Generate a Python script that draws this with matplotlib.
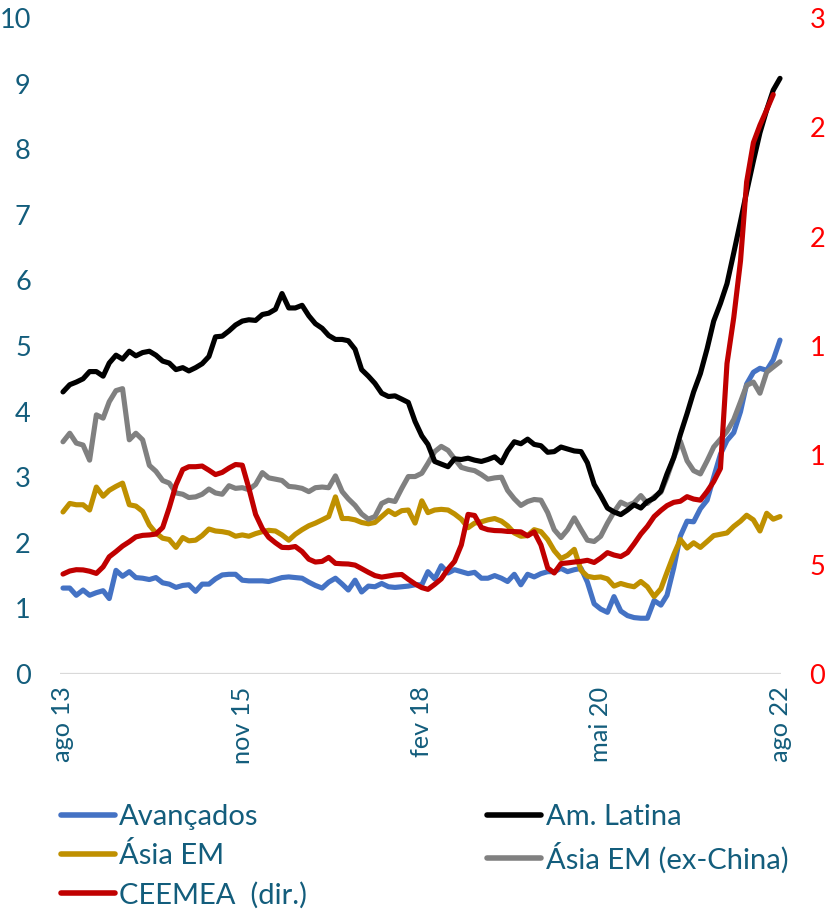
import matplotlib
matplotlib.use("Agg")
import matplotlib.pyplot as plt
import numpy as np
import pandas as pd

plt.rcParams['font.family'] = ['Lato', 'DejaVu Sans']

# ---------------- data (monthly, ago 2013 .. ago 2022) ----------------
dates = pd.date_range("2013-08-01", periods=109, freq="MS")
tick_dates = pd.to_datetime(["2013-08-01", "2015-11-01", "2018-02-01", "2020-05-01", "2022-08-01"])
tick_labels = ["ago 13", "nov 15", "fev 18", "mai 20", "ago 22"]

avancados = [1.31, 1.31, 1.20, 1.28, 1.20, 1.24, 1.27, 1.15, 1.58, 1.49,
             1.56, 1.47, 1.46, 1.44, 1.47, 1.39, 1.37, 1.32, 1.35, 1.36,
             1.26, 1.37, 1.37, 1.45, 1.51, 1.52, 1.52, 1.43, 1.42, 1.42,
             1.42, 1.41, 1.44, 1.47, 1.48, 1.47, 1.46, 1.40, 1.35, 1.31,
             1.40, 1.46, 1.37, 1.28, 1.43, 1.25, 1.34, 1.33, 1.38, 1.33,
             1.32, 1.33, 1.34, 1.36, 1.36, 1.56, 1.45, 1.65, 1.54, 1.59,
             1.56, 1.53, 1.55, 1.46, 1.46, 1.50, 1.46, 1.41, 1.52, 1.36,
             1.52, 1.48, 1.53, 1.56, 1.56, 1.61, 1.56, 1.59, 1.61, 1.40,
             1.07, 0.99, 0.94, 1.18, 0.96, 0.89, 0.86, 0.85, 0.85, 1.12,
             1.05, 1.20, 1.62, 2.10, 2.33, 2.32, 2.52, 2.65, 3.00, 3.35,
             3.56, 3.68, 4.00, 4.42, 4.60, 4.66, 4.63, 4.79, 5.09]

am_latina = [4.30, 4.41, 4.45, 4.50, 4.61, 4.61, 4.54, 4.74, 4.86, 4.80,
             4.92, 4.85, 4.90, 4.92, 4.86, 4.77, 4.74, 4.64, 4.67, 4.62,
             4.67, 4.73, 4.84, 5.14, 5.15, 5.23, 5.32, 5.38, 5.40, 5.39,
             5.48, 5.50, 5.56, 5.80, 5.58, 5.58, 5.62, 5.46, 5.34, 5.27,
             5.16, 5.10, 5.10, 5.08, 4.95, 4.64, 4.54, 4.43, 4.28, 4.23,
             4.24, 4.19, 4.14, 3.85, 3.63, 3.50, 3.24, 3.20, 3.16, 3.28,
             3.27, 3.29, 3.26, 3.24, 3.27, 3.31, 3.22, 3.40, 3.54, 3.51,
             3.58, 3.50, 3.48, 3.38, 3.39, 3.46, 3.43, 3.40, 3.39, 3.22,
             2.89, 2.72, 2.53, 2.47, 2.43, 2.50, 2.58, 2.53, 2.63, 2.68,
             2.79, 3.05, 3.30, 3.65, 3.97, 4.30, 4.58, 4.96, 5.38, 5.65,
             5.95, 6.42, 6.90, 7.35, 7.82, 8.25, 8.60, 8.90, 9.08]

asia_em = [2.47, 2.60, 2.58, 2.58, 2.50, 2.85, 2.71, 2.80, 2.86, 2.91,
           2.58, 2.56, 2.48, 2.27, 2.15, 2.07, 2.05, 1.93, 2.08, 2.03,
           2.04, 2.11, 2.21, 2.18, 2.17, 2.15, 2.10, 2.12, 2.10, 2.14,
           2.17, 2.19, 2.18, 2.12, 2.04, 2.13, 2.20, 2.26, 2.30, 2.35,
           2.40, 2.70, 2.37, 2.37, 2.35, 2.31, 2.29, 2.31, 2.40, 2.49,
           2.43, 2.49, 2.50, 2.30, 2.64, 2.46, 2.50, 2.51, 2.50, 2.44,
           2.36, 2.23, 2.30, 2.32, 2.35, 2.37, 2.33, 2.26, 2.15, 2.10,
           2.11, 2.20, 2.17, 2.05, 1.88, 1.76, 1.81, 1.90, 1.58, 1.49,
           1.47, 1.48, 1.45, 1.34, 1.38, 1.35, 1.33, 1.41, 1.33, 1.18,
           1.30, 1.55, 1.82, 2.05, 1.92, 2.00, 1.93, 2.02, 2.11, 2.13,
           2.15, 2.25, 2.33, 2.42, 2.35, 2.18, 2.45, 2.36, 2.40]

asia_ex_china = [3.54, 3.67, 3.52, 3.49, 3.26, 3.95, 3.90, 4.15, 4.32, 4.35,
                 3.57, 3.67, 3.57, 3.18, 3.09, 2.95, 2.91, 2.76, 2.74, 2.69,
                 2.70, 2.74, 2.82, 2.76, 2.74, 2.87, 2.83, 2.84, 2.81, 2.89,
                 3.07, 2.99, 2.97, 2.95, 2.86, 2.85, 2.83, 2.78, 2.84, 2.85,
                 2.84, 3.02, 2.78, 2.67, 2.57, 2.44, 2.36, 2.40, 2.60, 2.65,
                 2.63, 2.83, 3.01, 3.01, 3.06, 3.21, 3.39, 3.47, 3.41, 3.28,
                 3.15, 3.12, 3.10, 3.04, 2.97, 2.99, 3.00, 2.80, 2.67, 2.57,
                 2.63, 2.66, 2.65, 2.46, 2.20, 2.08, 2.20, 2.38, 2.20, 2.04,
                 2.02, 2.10, 2.30, 2.47, 2.62, 2.57, 2.61, 2.72, 2.60, 2.70,
                 2.77, 3.00, 3.30, 3.55, 3.25, 3.10, 3.05, 3.25, 3.46, 3.58,
                 3.70, 3.88, 4.15, 4.40, 4.45, 4.28, 4.60, 4.68, 4.76]

ceemea = [4.57, 4.71, 4.77, 4.76, 4.70, 4.60, 4.90, 5.36, 5.60, 5.85,
          6.05, 6.27, 6.34, 6.36, 6.40, 6.70, 7.60, 8.65, 9.35, 9.48,
          9.48, 9.51, 9.32, 9.12, 9.22, 9.42, 9.58, 9.55, 8.50, 7.30,
          6.65, 6.25, 6.00, 5.79, 5.78, 5.83, 5.60, 5.25, 5.12, 5.15,
          5.33, 5.06, 5.04, 5.03, 4.98, 4.82, 4.65, 4.50, 4.43, 4.48,
          4.53, 4.55, 4.33, 4.12, 3.95, 3.87, 4.10, 4.35, 4.80, 5.15,
          5.90, 7.30, 7.25, 6.70, 6.60, 6.56, 6.55, 6.52, 6.51, 6.50,
          6.32, 6.50, 5.90, 4.85, 4.62, 5.05, 5.08, 5.12, 5.15, 5.20,
          5.10, 5.30, 5.55, 5.44, 5.37, 5.55, 5.95, 6.40, 6.75, 7.20,
          7.48, 7.70, 7.85, 7.90, 8.11, 8.00, 7.95, 8.35, 8.80, 9.40,
          14.2, 16.3, 18.9, 22.5, 24.3, 25.1, 25.8, 26.5, np.nan]

left_ticks = list(range(0, 11))
right_ticks = [0, 5, 10, 15, 20, 25, 30]

# ---------------- styling ----------------
c_blue = "#4472C4"
c_black = "#000000"
c_gold = "#BF9000"
c_gray = "#808080"
c_red = "#C00000"
c_text = "#135D7C"
c_right = "#FF0000"
lw = 3.7
fs = 19.5
fs_x = 18.2
fs_leg = 21

W, H = 825, 916
fig = plt.figure(figsize=(W / 100, H / 100), dpi=100)
ax_l, ax_r = 60, 781
ax_b, ax_t = 674, 18
ax = fig.add_axes([ax_l / W, 1 - ax_b / H, (ax_r - ax_l) / W, (ax_b - ax_t) / H])
ax2 = ax.twinx()

month = pd.Timedelta(days=30.44)
ax.set_xlim(dates[0] - 0.45 * month, dates[-1] + 0.15 * month)
ax.set_ylim(0, 10)
ax2.set_ylim(0, 30)

ax.axhline(0, color="#D9D9D9", lw=1.6, zorder=1)

kw = dict(lw=lw, clip_on=False, solid_joinstyle="round", solid_capstyle="round")
l_av, = ax.plot(dates, avancados, color=c_blue, label="Avançados", zorder=3, **kw)
l_gd, = ax.plot(dates, asia_em, color=c_gold, label="Ásia EM", zorder=3, **kw)
l_gy, = ax.plot(dates, asia_ex_china, color=c_gray, label="Ásia EM (ex-China)", zorder=3, **kw)
l_bk, = ax.plot(dates, am_latina, color=c_black, label="Am. Latina", zorder=4, **kw)
l_rd, = ax2.plot(dates, ceemea, color=c_red, label="CEEMEA  (dir.)", zorder=5, **kw)

for a in (ax, ax2):
    for s in a.spines.values():
        s.set_visible(False)

ax.set_yticks(left_ticks)
ax.set_yticklabels([str(t) for t in left_ticks])
ax.tick_params(axis="y", length=0, pad=21, labelsize=fs, labelcolor=c_text)
ax2.set_yticks(right_ticks)
ax2.set_yticklabels([str(t) for t in right_ticks])
ax2.tick_params(axis="y", length=0, pad=20.5, labelsize=fs, labelcolor=c_right)

ax.set_xticks(tick_dates)
ax.set_xticklabels(tick_labels, rotation=90, va="top", ha="center")
ax.tick_params(axis="x", length=0, pad=9, labelsize=fs_x, labelcolor=c_text)

handles = [l_av, l_gd, l_rd, l_bk, l_gy]
leg = fig.legend(handles=handles, labels=[h.get_label() for h in handles],
                 ncol=2, loc="upper left", bbox_to_anchor=(61 / W, 1 - 804 / H),
                 frameon=False, fontsize=fs_leg, handlelength=1.85, handletextpad=0.15,
                 columnspacing=6.17, labelspacing=0.42, borderpad=0, borderaxespad=0)
for t in leg.get_texts():
    t.set_color(c_text)
for h in leg.legend_handles:
    h.set_linewidth(4.0)
    h.set_solid_capstyle("round")

fig.savefig("out.png", dpi=100)
